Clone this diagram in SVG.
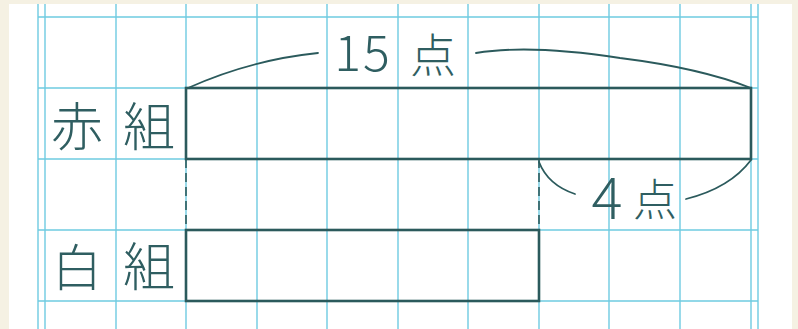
<svg xmlns="http://www.w3.org/2000/svg" width="798" height="329" viewBox="0 0 798 329">
<style>
.grid{stroke:#6fcbe1;stroke-width:1.4;fill:none}
.bar{stroke:#2b5a5c;stroke-width:2.6;fill:none}
.dash{stroke:#2b5a5c;stroke-width:1.6;fill:none;stroke-dasharray:9 5}
.arc{stroke:#2b5a5c;stroke-width:1.8;fill:none;stroke-linecap:round}
.t{font-family:"Noto Sans CJK JP","Noto Sans",sans-serif;font-weight:300;fill:#2f5e61;text-anchor:middle}
</style>
<rect width="798" height="329" fill="#f5f1e3"/>
<rect x="9" y="4" width="783" height="325" fill="#ffffff"/>
<g id="grid" class="grid">
<path d="M38 4V329M45 4V329M116 4V329M186 4V329M257 4V329M327 4V329M398 4V329M468 4V329M539 4V329M609 4V329M680 4V329M751 4V329M758 4V329"/>
<path d="M38 17H758M38 88H758M38 159H758M38 230H758M38 301H758"/>
</g>
<g id="red-bar">
<rect class="bar" x="186" y="88" width="565" height="71"/>
</g>
<g id="white-bar">
<rect class="bar" x="186" y="230" width="353" height="71"/>
</g>
<g id="label-red"><text class="t" x="77" y="146" font-size="52">赤</text><text class="t" x="149" y="146" font-size="52">組</text></g>
<g id="label-white"><text class="t" x="77" y="286" font-size="50">白</text><text class="t" x="149" y="286" font-size="52">組</text></g>
<g id="label-15"><text class="t" x="363" y="71" font-size="50" letter-spacing="2">15</text><text class="t" x="433" y="72" font-size="46">点</text></g>
<g id="label-4"><text class="t" x="607" y="219" font-size="58">4</text><text class="t" x="655" y="216" font-size="44">点</text></g>
<g id="connectors">
<path class="dash" d="M186 159V230"/>
<path class="dash" d="M539 159V230"/>
<path class="arc" d="M188 88Q250 60 318 53"/>
<path class="arc" d="M476 53Q530 44 620 58Q700 68 751 88"/>
<path class="arc" d="M539 162Q548 185 575 194"/>
<path class="arc" d="M686 199Q730 188 751 160"/>
</g>
</svg>
